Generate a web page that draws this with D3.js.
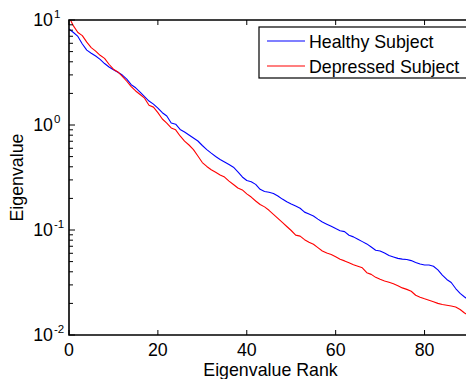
<!DOCTYPE html>
<html>
<head>
<meta charset="utf-8">
<script src="https://cdn.jsdelivr.net/npm/d3@7"></script>
<style>
  html, body { margin: 0; padding: 0; background: #fff; }
  svg { display: block; font-family: "Liberation Sans", Arial, sans-serif; }
</style>
</head>
<body>
<svg id="chart" width="466" height="379"></svg>
<script>
// Eigenvalue spectra, rank 0..90
const ranks = d3.range(0, 91);

const healthy = [
  8.21, 7.60, 6.97, 5.91, 5.17, 4.83, 4.54, 4.22, 3.85, 3.57,
  3.36, 3.18, 2.99, 2.74, 2.42, 2.26, 2.06, 1.86, 1.69, 1.58,
  1.45, 1.31, 1.22, 1.045, 1.018, 0.908, 0.858, 0.803, 0.752, 0.704,
  0.638, 0.582, 0.539, 0.501, 0.470, 0.444, 0.420, 0.396, 0.358, 0.320,
  0.296, 0.288, 0.272, 0.244, 0.233, 0.229, 0.223, 0.211, 0.197, 0.186,
  0.177, 0.169, 0.161, 0.148, 0.142, 0.136, 0.127, 0.119, 0.1136, 0.1084,
  0.1031, 0.0985, 0.0965, 0.0892, 0.0860, 0.0816, 0.0775, 0.0737, 0.0689, 0.0642,
  0.0631, 0.0603, 0.0572, 0.0554, 0.0537, 0.0528, 0.0524, 0.0511, 0.0491, 0.0474,
  0.0464, 0.0464, 0.0452, 0.0417, 0.0372, 0.0338, 0.0316, 0.0277, 0.0249, 0.0230,
  0.0215
];

const depressed = [
  10.7, 8.79, 7.60, 7.10, 6.15, 5.46, 5.05, 4.61, 4.31, 3.79,
  3.40, 3.20, 2.91, 2.61, 2.32, 2.11, 1.95, 1.80, 1.54, 1.48,
  1.31, 1.14, 1.04, 0.938, 0.900, 0.786, 0.701, 0.645, 0.583, 0.507,
  0.439, 0.403, 0.375, 0.355, 0.334, 0.319, 0.292, 0.271, 0.251, 0.241,
  0.221, 0.206, 0.189, 0.175, 0.166, 0.154, 0.141, 0.129, 0.118, 0.108,
  0.0989, 0.0894, 0.0875, 0.0809, 0.0765, 0.0731, 0.0680, 0.0631, 0.0603, 0.0583,
  0.0556, 0.0526, 0.0508, 0.0487, 0.0466, 0.0451, 0.0436, 0.0392, 0.0378, 0.0354,
  0.0339, 0.0327, 0.0318, 0.0307, 0.0295, 0.0281, 0.0272, 0.0261, 0.0239, 0.0229,
  0.0221, 0.0214, 0.0207, 0.0200, 0.0195, 0.0192, 0.0189, 0.0185, 0.0175, 0.0162,
  0.0152
];

const seriesNames = ["Healthy Subject", "Depressed Subject"];
const seriesColors = ["#0000ff", "#ff0000"];
const xTicks = [0, 20, 40, 60, 80];
const yExponents = [1, 0, -1, -2];

const svg = d3.select("#chart");
const plotLeft = 69, plotRight = 469, plotTop = 20, plotBottom = 335;
const fontSize = 17.8;

const x = d3.scaleLinear().domain([0, 90]).range([plotLeft, plotRight]);
const y = d3.scaleLog().domain([0.01, 10]).range([plotBottom, plotTop]);

svg.append("rect").attr("width", 466).attr("height", 379).attr("fill", "#fff");

svg.append("defs").append("clipPath").attr("id", "plotClip")
  .append("rect").attr("x", plotLeft).attr("y", plotTop)
  .attr("width", plotRight - plotLeft).attr("height", plotBottom - plotTop);

// data lines
const line = d3.line().x((d, i) => x(ranks[i])).y(d => y(d));
const plot = svg.append("g").attr("clip-path", "url(#plotClip)");
[healthy, depressed].forEach((vals, k) => {
  plot.append("path")
    .datum(vals)
    .attr("fill", "none")
    .attr("stroke", seriesColors[k])
    .attr("stroke-width", 1.1)
    .attr("stroke-linejoin", "round")
    .attr("d", line);
});

// frame
svg.append("path")
  .attr("d", `M${plotLeft},${plotTop}H${plotRight}V${plotBottom}H${plotLeft}Z`)
  .attr("fill", "none").attr("stroke", "#000").attr("stroke-width", 1.6);

// x ticks (inward, bottom and top) and labels
const tk = svg.append("g").attr("stroke", "#000").attr("stroke-width", 1);
xTicks.forEach(t => {
  tk.append("line").attr("x1", x(t)).attr("x2", x(t)).attr("y1", plotBottom).attr("y2", plotBottom - 5);
  tk.append("line").attr("x1", x(t)).attr("x2", x(t)).attr("y1", plotTop).attr("y2", plotTop + 5);
});
svg.append("g").selectAll("text").data(xTicks).join("text")
  .attr("x", d => x(d)).attr("y", 356)
  .attr("text-anchor", "middle").attr("font-size", fontSize).attr("fill", "#000")
  .text(d => d);

// y ticks: majors at decades, minors at 2..9
yExponents.forEach(e => {
  const v = Math.pow(10, e);
  tk.append("line").attr("x1", plotLeft).attr("x2", plotLeft + 6).attr("y1", y(v)).attr("y2", y(v));
  if (e > -2) {
    for (let m = 2; m <= 9; m++) {
      const mv = m * Math.pow(10, e - 1);
      tk.append("line").attr("x1", plotLeft).attr("x2", plotLeft + 4).attr("y1", y(mv)).attr("y2", y(mv));
    }
  }
});
const yl = svg.append("g").attr("fill", "#000");
yExponents.forEach(e => {
  const yy = y(Math.pow(10, e));
  yl.append("text").attr("x", 53).attr("y", yy + 6)
    .attr("text-anchor", "end").attr("font-size", fontSize).text("10");
  yl.append("text").attr("x", 54).attr("y", yy - 2)
    .attr("font-size", 11.5).text(String(e));
});

// axis titles
svg.append("text").attr("x", 270.5).attr("y", 376)
  .attr("text-anchor", "middle").attr("font-size", fontSize).attr("fill", "#000")
  .text("Eigenvalue Rank");
svg.append("text").attr("transform", `translate(22.5,${(plotTop + plotBottom) / 2}) rotate(-90)`)
  .attr("text-anchor", "middle").attr("font-size", fontSize).attr("fill", "#000")
  .text("Eigenvalue");

// legend
const lg = svg.append("g");
lg.append("rect").attr("x", 259).attr("y", 27).attr("width", 230).attr("height", 51)
  .attr("fill", "#fff").attr("stroke", "#000").attr("stroke-width", 1.2);
seriesNames.forEach((name, k) => {
  const ry = 41 + k * 25;
  lg.append("line").attr("x1", 267).attr("x2", 305).attr("y1", ry).attr("y2", ry)
    .attr("stroke", seriesColors[k]).attr("stroke-width", 1.1);
  lg.append("text").attr("x", 309).attr("y", ry + 6.5).attr("font-size", fontSize).attr("fill", "#000")
    .text(name);
});
</script>
</body>
</html>
